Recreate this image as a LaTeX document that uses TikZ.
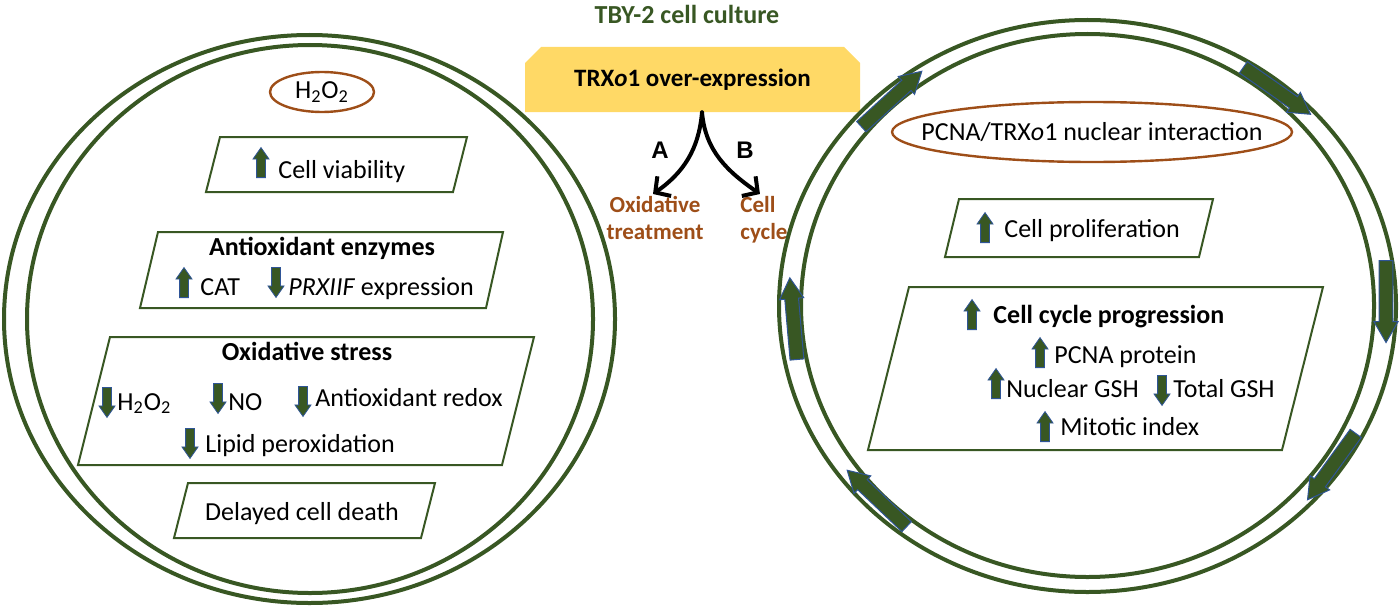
\documentclass[tikz,border=0pt]{standalone}
\usepackage{fontspec}
\setmainfont{Carlito}
\newfontfamily\letterfont{Liberation Sans}
\usetikzlibrary{positioning,shapes.arrows,shapes.misc,shapes.geometric,arrows.meta}
\definecolor{leaf}{RGB}{56,87,35}
\definecolor{rust}{RGB}{158,78,24}
\definecolor{gold}{RGB}{255,217,102}
\definecolor{steel}{RGB}{47,85,151}

\begin{document}
\begin{tikzpicture}[x=0.5pt,y=-0.5pt,
  ring/.style={draw=leaf,line width=2pt},
  slantbox/.style={draw=leaf,line width=1pt},
  oval/.style={draw=rust,line width=1.2pt},
  txt/.style={inner sep=0pt,font=\fontsize{13}{15}\selectfont},
  headline/.style={inner sep=0pt,font=\fontsize{13}{15}\selectfont\bfseries},
  brownlabel/.style={inner sep=0pt,text=rust,font=\fontsize{11.5}{13.5}\selectfont\bfseries},
  smallarr/.style={single arrow,fill=leaf,draw=steel,line width=0.4pt,inner xsep=0pt,inner ysep=2pt,
    minimum height=15pt,minimum width=0pt,single arrow head extend=1.8pt,single arrow tip angle=70,anchor=tail},
  incr/.style={smallarr,rotate=90},
  decr/.style={smallarr,rotate=-90},
  cyclearr/.style={single arrow,fill=leaf,draw=steel,line width=0.5pt,inner xsep=0pt,inner ysep=3.2pt,
    minimum height=41pt,minimum width=0pt,single arrow head extend=2.6pt,single arrow tip angle=60,anchor=tail},
  forkarrow/.style={line width=2pt,line cap=round,line join=round,-{Straight Barb[length=5.5pt,width=12pt]}}]
\useasboundingbox (0,0) rectangle (1400,615);

\node[headline,text=leaf] (title) at (687,14) {TBY-2 cell culture};
\node[chamfered rectangle,chamfered rectangle corners={north west,north east},chamfered rectangle xsep=4pt,
  chamfered rectangle ysep=4pt,fill=gold,minimum width=167.5pt,minimum height=32.5pt,
  font=\fontsize{12.5}{15}\selectfont\bfseries] (trx) at (692.5,79.5) {TRX\textit{o}1 over-expression};
\coordinate (split) at ([xshift=4.75pt]trx.south);
\node[brownlabel,align=center,anchor=north] (oxlab) at (655,196) {Oxidative\\treatment};
\node[brownlabel,align=left,anchor=north west] (cclab) at (740,196) {Cell\\cycle};
\node[font=\letterfont\fontsize{12}{14}\selectfont\bfseries] (lblA) at (660,150) {A};
\node[font=\letterfont\fontsize{12}{14}\selectfont\bfseries] (lblB) at (745,150) {B};
\draw[forkarrow] (split) to[out=-95,in=35] ([xshift=-1pt,yshift=1pt]oxlab.north);
\draw[forkarrow] (split) to[out=-85,in=145] ([xshift=-2pt,yshift=1pt]cclab.north);

\draw[ring] (309.5,319) ellipse [x radius=305.5,y radius=284];
\draw[ring] (310,319) ellipse [x radius=283,y radius=274];
\node[txt] (peroxide) at (322,92) {H\textsubscript{2}O\textsubscript{2}};
\draw[oval] (peroxide.center) ellipse [x radius=52,y radius=20];

\draw[slantbox] (206,192) -- (453,192) -- (467,137) -- (220,137) -- cycle;
\node[txt,anchor=base west] (viab) at (278,178) {Cell viability};
\node[incr] (viabup) at (261,178) {};

\draw[slantbox] (140,308) -- (486,308) -- (503,232) -- (158,232) -- cycle;
\node[headline,anchor=base] (enz) at (322,255) {Antioxidant enzymes};
\node[txt,anchor=base west] (cat) at (200,295) {CAT};
\node[incr] (catup) at (184,298) {};
\node[txt,anchor=base west] (prx) at (288,295) {\textit{PRXIIF} expression};
\node[decr] (prxdown) at (276,267) {};

\draw[slantbox] (78,465) -- (502,465) -- (534,337) -- (110,337) -- cycle;
\node[headline,anchor=base] (oxst) at (307,360) {Oxidative stress};
\node[txt,anchor=base west] (hp) at (117,410) {H\textsubscript{2}O\textsubscript{2}};
\node[decr] (hpdown) at (107,387) {};
\node[txt,anchor=base west] (no) at (228,410) {NO};
\node[decr] (nodown) at (218,383) {};
\node[txt,anchor=base west] (redox) at (315,406) {Antioxidant redox};
\node[decr] (redoxdown) at (303,386) {};
\node[txt,anchor=base west] (lipid) at (205,452) {Lipid peroxidation};
\node[decr] (lipiddown) at (190,428) {};

\draw[slantbox] (174,538) -- (421,538) -- (435,483) -- (188,483) -- cycle;
\node[txt,anchor=base] (death) at (302,520) {Delayed cell death};

\draw[ring] (1087.5,306) ellipse [x radius=308.5,y radius=286];
\draw[ring] (1087.5,305.5) ellipse [x radius=286.5,y radius=271.5];
\node[cyclearr,rotate=42.5] (cyc1) at (861,127) {};
\node[cyclearr,rotate=-35] (cyc2) at (1243,67) {};
\node[cyclearr,rotate=-90] (cyc3) at (1386,260) {};
\node[cyclearr,rotate=-126] (cyc4) at (1356,433) {};
\node[cyclearr,rotate=136.5] (cyc5) at (907,527) {};
\node[cyclearr,rotate=95] (cyc6) at (797,360) {};
\node[txt] (pcna) at (1092,132) {PCNA/TRX\textit{o}1 nuclear interaction};
\draw[oval] (pcna.center) ellipse [x radius=200,y radius=30];

\draw[slantbox] (945,257) -- (1199,257) -- (1213,199) -- (959,199) -- cycle;
\node[txt,anchor=base west] (prolif) at (1004,237) {Cell proliferation};
\node[incr] (prolifup) at (985,243) {};

\draw[slantbox] (868,450) -- (1282,450) -- (1323,287) -- (909,287) -- cycle;
\node[headline,anchor=base west] (prog) at (993,323) {Cell cycle progression};
\node[incr] (progup) at (972,330) {};
\node[txt,anchor=base west] (pcnaprot) at (1054,363) {PCNA protein};
\node[incr] (pcnaup) at (1040,368) {};
\node[txt,anchor=base west] (nuc) at (1006,397) {Nuclear GSH};
\node[incr] (nucup) at (996,399) {};
\node[txt,anchor=base west] (tot) at (1173,397) {Total GSH};
\node[decr] (totdown) at (1162,375) {};
\node[txt,anchor=base west] (mit) at (1060,435) {Mitotic index};
\node[incr] (mitup) at (1045,442) {};
\end{tikzpicture}
\end{document}
